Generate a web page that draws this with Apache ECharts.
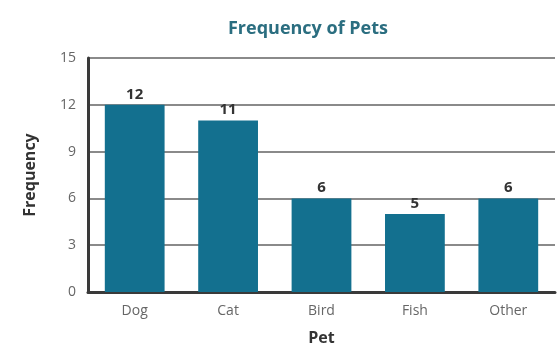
<!DOCTYPE html>
<html><head><meta charset="utf-8">
<script src="https://cdn.jsdelivr.net/npm/echarts@6/dist/echarts.min.js"></script>
<style>html,body{margin:0;padding:0;background:#fff}#c{width:557px;height:351px}</style>
</head><body><div id="c"></div>
<script>
const categories = ['Dog','Cat','Bird','Fish','Other'];
const values = [12, 11, 6, 5, 6];
const yTicks = [0, 3, 6, 9, 12, 15];
const chart = echarts.init(document.getElementById('c'));
chart.setOption({
  animation: false,
  backgroundColor: '#ffffff',
  title: {
    text: 'Frequency of Pets', left: 303, top: 15, textAlign: 'center',
    textStyle: { fontFamily: 'Open Sans', fontSize: 18, fontWeight: 'bold', color: '#2b6e80' }
  },
  grid: { left: 88, right: 2, top: 58, bottom: 58 },
  xAxis: {
    type: 'category', data: categories,
    name: 'Pet', nameLocation: 'middle', nameGap: 38,
    nameTextStyle: { fontFamily: 'Open Sans', fontSize: 16, fontWeight: 'bold', color: '#333' },
    axisLine: { lineStyle: { color: '#3a3a3a', width: 3 } },
    axisTick: { show: false },
    axisLabel: { fontFamily: 'Open Sans', fontSize: 14, color: '#666', margin: 12 }
  },
  yAxis: {
    type: 'value', min: 0, max: 15, interval: 3,
    name: 'Frequency', nameLocation: 'middle', nameGap: 50, nameRotate: 90,
    nameTextStyle: { fontFamily: 'Open Sans', fontSize: 16, fontWeight: 'bold', color: '#333' },
    axisLine: { show: true, lineStyle: { color: '#3a3a3a', width: 3 } },
    axisTick: { show: false },
    axisLabel: { fontFamily: 'Open Sans', fontSize: 14, color: '#666', margin: 12,
      formatter: v => yTicks.includes(v) ? String(v) : '' },
    splitLine: { show: true, lineStyle: { color: '#8a8a8a', width: 2 } }
  },
  series: [{
    type: 'bar', data: values, barWidth: '64%',
    itemStyle: { color: '#13708f' },
    label: { show: true, position: 'top', distance: 3,
      fontFamily: 'Open Sans', fontSize: 15, fontWeight: 'bold', color: '#333' }
  }]
});
</script></body></html>
